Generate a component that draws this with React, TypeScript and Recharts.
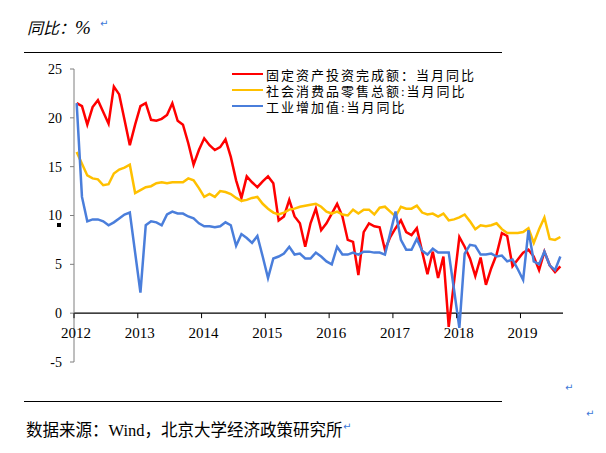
import { LineChart, Line, XAxis, YAxis, ReferenceLine } from "recharts";

// 2012-01 起的月度数据，点放在月中
const fixedInvest = [
  21.5, 21.2, 19.3, 21.1, 21.8, 20.6, 19.4, 23.2, 22.4, 19.8, 17.2, 19.3,
  21.2, 21.5, 19.8, 19.7, 19.9, 20.3, 21.5, 19.7, 19.3, 17.4, 15.2, 16.7,
  17.9, 17.2, 16.7, 17.0, 17.8, 16.0, 13.6, 11.8, 14.0, 13.4, 12.9, 13.5,
  14.0, 13.3, 9.5, 9.9, 11.6, 9.9, 9.2, 6.8, 9.2, 10.7, 8.5, 9.2,
  10.2, 11.2, 9.9, 7.5, 7.3, 3.9, 8.3, 9.2, 8.9, 8.8, 6.5, 7.8,
  8.7, 9.5, 8.3, 8.0, 8.7, 6.3, 4.0, 6.3, 3.6, 5.8, -1.4, 3.2,
  7.8, 6.8, 5.6, 3.8, 5.7, 2.9, 4.6, 6.0, 8.2, 7.9, 4.8, 5.5,
  6.2, 6.5, 5.8, 4.4, 6.3, 4.9, 4.2, 4.8,
];
const retail = [
  16.5, 15.3, 14.1, 13.8, 13.7, 13.1, 13.2, 14.3, 14.7, 14.9, 15.2, 12.3,
  12.6, 12.9, 13.0, 13.3, 13.4, 13.3, 13.4, 13.4, 13.4, 13.8, 13.6, 12.8,
  11.9, 12.2, 11.9, 12.5, 12.4, 12.2, 11.8, 11.5, 11.6, 11.8, 11.9, 11.2,
  10.7, 10.3, 10.1, 10.3, 10.6, 10.7, 10.9, 11.0, 11.1, 11.2, 10.9, 10.4,
  10.2, 10.4, 10.1, 10.0, 10.6, 10.2, 10.6, 10.6, 10.1, 10.8, 10.9, 10.4,
  9.9, 10.9, 10.7, 10.7, 11.0, 10.3, 10.1, 10.2, 9.9, 10.2, 9.5, 9.6,
  9.8, 10.1, 9.4, 8.6, 9.0, 8.9, 9.0, 9.2, 8.6, 8.2, 8.2, 8.2,
  8.3, 8.7, 7.2, 8.6, 9.8, 7.6, 7.5, 7.8,
];
const industry = [
  21.5, 11.9, 9.4, 9.6, 9.6, 9.4, 9.0, 9.3, 9.7, 10.1, 10.3, 6.2,
  2.1, 9.0, 9.4, 9.3, 9.0, 10.1, 10.4, 10.2, 10.2, 9.9, 9.7, 9.2,
  8.9, 8.9, 8.8, 8.9, 9.3, 9.0, 6.9, 8.1, 7.7, 7.2, 7.9, 5.8,
  3.6, 5.6, 5.8, 6.1, 6.8, 6.0, 6.1, 5.6, 5.6, 6.2, 5.8, 5.3,
  5.0, 6.8, 6.0, 6.0, 6.2, 6.0, 6.3, 6.3, 6.2, 6.2, 6.0, 8.2,
  10.4, 7.5, 6.5, 6.5, 7.6, 6.4, 6.0, 6.6, 6.2, 6.2, 6.2, 2.4,
  -1.5, 6.1, 7.0, 6.9, 6.0, 6.0, 6.1, 5.8, 5.9, 5.3, 5.5, 4.5,
  3.4, 8.5, 5.3, 5.0, 6.3, 4.9, 4.4, 5.8,
];
const yearTicks = [0, 12, 24, 36, 48, 60, 72, 84];
const yearLabels = ["2012", "2013", "2014", "2015", "2016", "2017", "2018", "2019"];
const yTicks = [-5, 0, 5, 10, 15, 20, 25];
const seriesNames = ["固定资产投资完成额：当月同比", "社会消费品零售总额:当月同比", "工业增加值:当月同比"];
const seriesColors = ["#ff0000", "#ffc000", "#4a7edb"];

const data = fixedInvest.map((v, i) => ({
  x: i + 0.5,
  fai: v,
  retail: retail[i],
  ind: industry[i],
}));

const W = 606;
const H = 453;
const PLOT_TOP = 69;
const PLOT_BOTTOM = 362;
const ZERO_Y = PLOT_TOP + ((25 - 0) / 30) * (PLOT_BOTTOM - PLOT_TOP);
const serif = '"Liberation Serif", "Noto Sans CJK SC", serif';

function YearTick(props: any) {
  const { x, payload } = props;
  const idx = yearTicks.indexOf(payload.value);
  return (
    <g>
      <line x1={x} x2={x} y1={ZERO_Y} y2={ZERO_Y + 5} stroke="#000" />
      <text x={x + 2} y={ZERO_Y + 25} textAnchor="middle" fontSize={15} fontFamily={serif} fill="#000">
        {yearLabels[idx]}
      </text>
    </g>
  );
}

const ret = (left: number, top: number) => (
  <div style={{ position: "absolute", left, top, fontSize: 10, color: "#3c78d8", fontFamily: "DejaVu Sans" }}>↵</div>
);

export default function App() {
  return (
    <div style={{ position: "absolute", left: 0, top: 0, width: W, height: H, background: "#fff", overflow: "hidden" }}>
      <div style={{ position: "absolute", left: 27, top: 15, fontSize: 16, fontStyle: "italic", fontFamily: serif, color: "#000" }}>
        同比：<span style={{ fontSize: 19 }}>%</span>
      </div>
      {ret(100, 18)}
      <div style={{ position: "absolute", left: 24, top: 52, width: 478, height: 1, background: "#000" }} />

      <div style={{ position: "absolute", left: 0, top: 0 }}>
        <LineChart width={W} height={H} data={data} margin={{ top: PLOT_TOP, right: 43, bottom: H - PLOT_BOTTOM - 30, left: 54 }}>
          <XAxis
            dataKey="x"
            type="number"
            domain={[0, 92]}
            ticks={yearTicks}
            axisLine={false}
            tickLine={false}
            height={30}
            tick={<YearTick />}
            interval={0}
          />
          <YAxis
            domain={[-5, 25]}
            ticks={yTicks}
            width={20}
            interval={0}
            axisLine={{ stroke: "#7f7f7f" }}
            tickLine={{ stroke: "#7f7f7f" }}
            tickSize={4}
            tickMargin={8}
            tick={{ fontSize: 14, fontFamily: serif, fill: "#000" }}
          />
          <ReferenceLine y={0} stroke="#000" strokeWidth={1.2} ifOverflow="extendDomain" />
          <Line dataKey="fai" stroke={seriesColors[0]} strokeWidth={2.5} dot={false} isAnimationActive={false} />
          <Line dataKey="retail" stroke={seriesColors[1]} strokeWidth={2.5} dot={false} isAnimationActive={false} />
          <Line dataKey="ind" stroke={seriesColors[2]} strokeWidth={2.5} dot={false} isAnimationActive={false} />
        </LineChart>
      </div>

      <div style={{ position: "absolute", left: 232, top: 66 }}>
        {seriesNames.map((n, i) => (
          <div key={n} style={{ display: "flex", alignItems: "center", height: 16 }}>
            <div style={{ width: 31, height: 2.5, background: seriesColors[i], marginRight: 3 }} />
            <span style={{ fontSize: 13, fontFamily: serif, letterSpacing: 2, color: "#000", whiteSpace: "nowrap" }}>{n}</span>
          </div>
        ))}
      </div>

      <div style={{ position: "absolute", left: 57, top: 223, width: 4, height: 4, background: "#000" }} />
      {ret(565, 382)}
      <div style={{ position: "absolute", left: 24, top: 401, width: 478, height: 1, background: "#000" }} />
      {ret(586, 408)}
      <div style={{ position: "absolute", left: 26, top: 417, fontSize: 16.5, fontFamily: serif, color: "#000", whiteSpace: "nowrap" }}>
        数据来源：Wind，北京大学经济政策研究所
      </div>
      {ret(343, 421)}
    </div>
  );
}
